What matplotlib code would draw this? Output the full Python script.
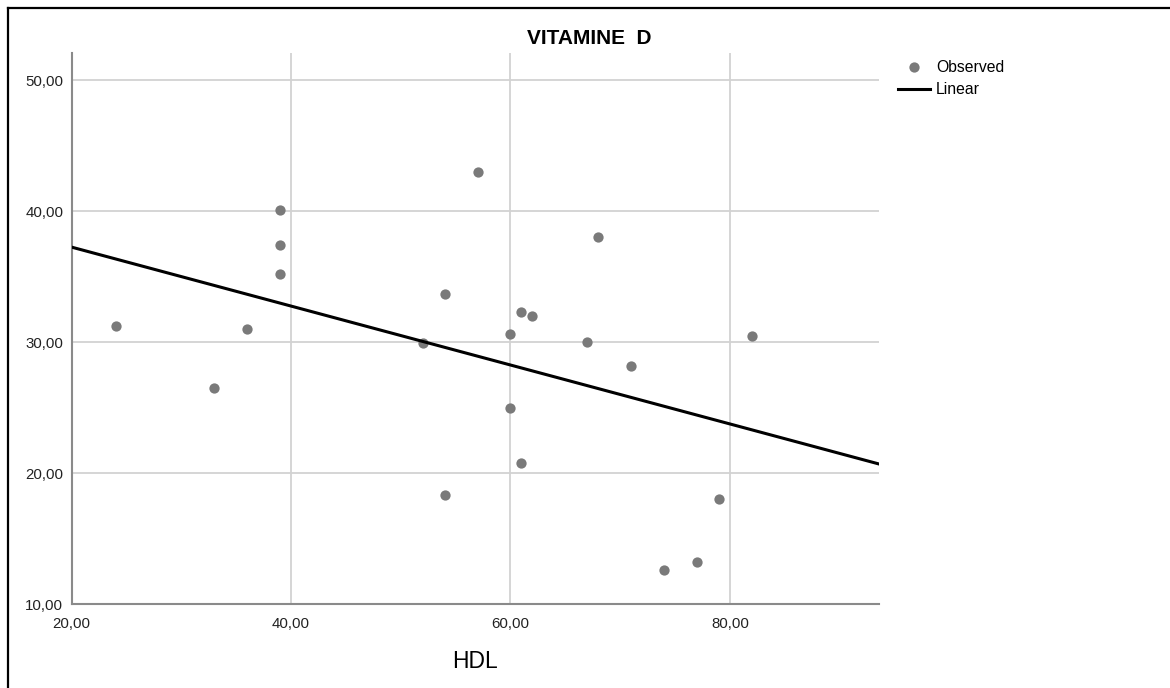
import numpy as np
import matplotlib
matplotlib.use('Agg')
import matplotlib.pyplot as plt
from matplotlib.ticker import FuncFormatter
from matplotlib.lines import Line2D

plt.rcParams['font.family'] = ['Liberation Sans', 'DejaVu Sans']

# HDL vs vitamine D
hdl = [24, 33, 36, 39, 39, 39, 52, 54, 54, 57, 60, 60, 61, 61, 62,
       67, 68, 71, 74, 77, 79, 82]
vit_d = [31.2, 26.5, 31.0, 40.1, 37.4, 35.2, 29.9, 33.7, 18.3, 43.0, 30.6, 25.0,
         32.3, 20.8, 32.0, 30.0, 38.0, 28.2, 12.6, 13.2, 18.0, 30.5]
x_ticks = [20, 40, 60, 80]
y_ticks = [10, 20, 30, 40, 50]

fig = plt.figure(figsize=(11.7, 6.88), dpi=100)
W, H = 1170, 688
ax = fig.add_axes([71.7 / W, 1 - 604 / H, (879 - 71.7) / W, (604 - 52.7) / H])

# frame around the chart (top and left only visible)
fig.add_artist(Line2D([8 / W, 1], [1 - 8 / H, 1 - 8 / H], color='black', lw=1.6))
fig.add_artist(Line2D([8 / W, 8 / W], [1 - 8 / H, 0], color='black', lw=1.6))

ax.set_xlim(20, 93.6)
ax.set_ylim(10, 52.1)

ax.plot(hdl, vit_d, 'o', color='#7a7a7a', markersize=7.4, markeredgewidth=0,
        zorder=3, label='Observed')

# linear fit
b, a = np.polyfit(hdl, vit_d, 1)
xs = np.array(ax.get_xlim())
ax.plot(xs, a + b * xs, color='black', lw=2.2, zorder=4, label='Linear')

ax.set_xticks(x_ticks)
ax.set_yticks(y_ticks)
fmt = FuncFormatter(lambda v, p: f'{v:.2f}'.replace('.', ','))
ax.xaxis.set_major_formatter(fmt)
ax.yaxis.set_major_formatter(fmt)
ax.tick_params(length=0, labelsize=10.8, colors='#222222')
ax.tick_params(axis='x', pad=9)
ax.tick_params(axis='y', pad=6)
for t in ax.get_yticklabels():
    t.set_va('center_baseline')

ax.grid(True, color='#d2d2d2', lw=1.3)
ax.set_axisbelow(True)
for s in ['top', 'right']:
    ax.spines[s].set_visible(False)
for s in ['left', 'bottom']:
    ax.spines[s].set_color('#8a8a8a')
    ax.spines[s].set_linewidth(1.5)

ax.set_xlabel('HDL', fontsize=16.5, labelpad=14)
fig.text(589 / W, 1 - 38 / H, 'VITAMINE  D', ha='center', va='center',
         fontsize=15, fontweight='bold')

ax.legend(loc='upper left', bbox_to_anchor=(898 / W, 1 - 60 / H),
          bbox_transform=fig.transFigure, frameon=False, fontsize=11.3,
          handlelength=2.05, handletextpad=0.37, labelspacing=0.45,
          borderpad=0, borderaxespad=0)

fig.savefig('out.png', dpi=100)
